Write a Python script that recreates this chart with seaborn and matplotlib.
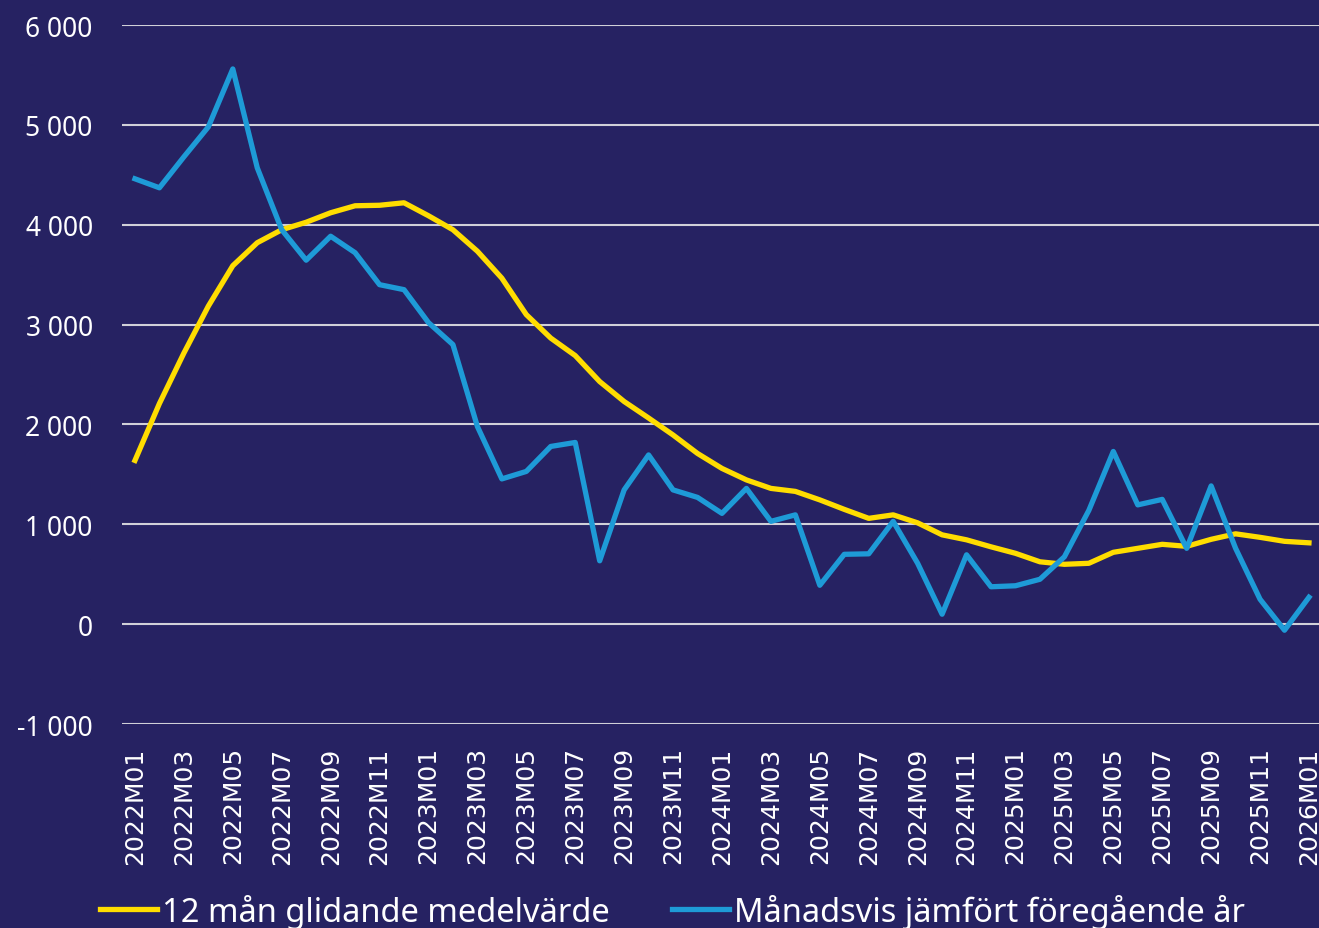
import numpy as np
import pandas as pd
import matplotlib
matplotlib.use("Agg")
import matplotlib.pyplot as plt
import seaborn as sns
from matplotlib.ticker import FuncFormatter

# months 2022M01 .. 2026M01
months = [f"{y}M{m:02d}" for y in range(2022, 2027) for m in range(1, 13)][:49]

rolling_avg = [1640, 2210, 2715, 3185, 3590, 3820, 3950, 4025, 4120, 4190,
               4195, 4220, 4090, 3950, 3735, 3465, 3100, 2865, 2690, 2430,
               2230, 2065, 1895, 1710, 1560, 1445, 1360, 1330, 1245, 1150,
               1060, 1095, 1015, 895, 845, 775, 710, 625, 600, 610,
               720, 760, 800, 780, 850, 905, 870, 830, 815]

monthly = [4460, 4370, 4680, 4980, 5560, 4570, 3950, 3645, 3885, 3720,
           3400, 3350, 3020, 2800, 1980, 1455, 1530, 1780, 1820, 635,
           1345, 1695, 1345, 1270, 1110, 1360, 1030, 1095, 390, 700,
           705, 1030, 610, 100, 695, 375, 385, 450, 675, 1140,
           1730, 1195, 1250, 760, 1385, 760, 250, -60, 270]

series_names = ["12 mån glidande medelvärde", "Månadsvis jämfört föregående år"]
colors = ["#FFDD00", "#1E9BD7"]
bg = "#262262"

df = pd.DataFrame({
    "idx": list(range(len(months))) * 2,
    "value": rolling_avg + monthly,
    "serie": [series_names[0]] * len(months) + [series_names[1]] * len(months),
})

fig = plt.figure(figsize=(13.19, 9.29), dpi=100, facecolor=bg)
ax = fig.add_axes([0.0925, 0.2195, 0.9075, 0.7525])
ax.set_facecolor(bg)

sns.lineplot(data=df, x="idx", y="value", hue="serie", palette=colors,
             hue_order=series_names, linewidth=3.8, ax=ax, legend=False)

ax.set_ylim(-1000, 6000)
ax.set_xlim(-0.53, 48.41)
ax.set_yticks(np.arange(-1000, 6001, 1000))
ax.yaxis.set_major_formatter(FuncFormatter(lambda v, p: f"{v:,.0f}".replace(",", " ")))
ax.grid(axis="y", color="#d0d0d8", linewidth=1.5)
ax.set_axisbelow(True)
ax.set_xticks(range(0, len(months), 2))
ax.set_xticklabels(months[::2], rotation=90, fontsize=18, color="white",
                   family="DejaVu Sans")
for lab in ax.get_yticklabels():
    lab.set_family("Noto Sans")
ax.tick_params(axis="y", length=0, pad=21, labelsize=19, labelcolor="white")
ax.tick_params(axis="x", length=0, pad=16)
for s in ax.spines.values():
    s.set_visible(False)
ax.set_xlabel("")
ax.set_ylabel("")

handles = [plt.Line2D([], [], color=c, linewidth=3.8) for c in colors]
leg = fig.legend(handles, series_names, loc="center", bbox_to_anchor=(0.51, 0.018),
                 ncol=2, frameon=False, handlelength=1.75, handletextpad=0.15,
                 columnspacing=1.9, prop={"family": "Noto Sans", "size": 23.5})
for t in leg.get_texts():
    t.set_color("white")

fig.savefig("out.png", dpi=100, facecolor=bg)
